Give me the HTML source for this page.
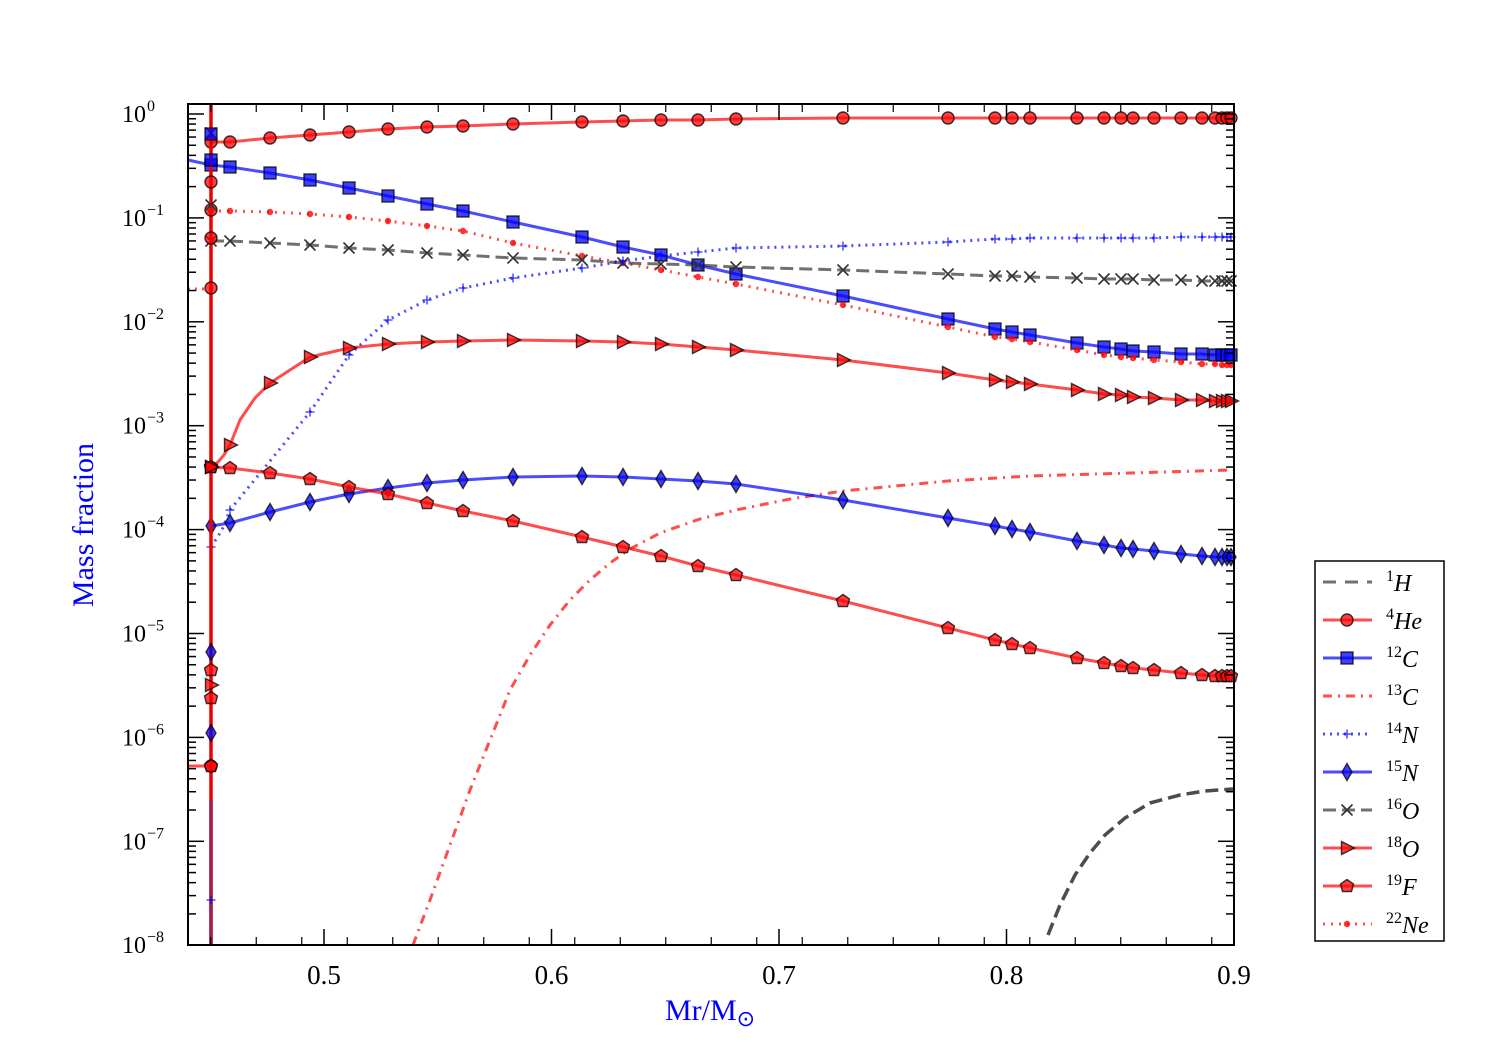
<!DOCTYPE html>
<html><head><meta charset="utf-8"><style>
html,body{margin:0;padding:0;background:#fff;}
svg{display:block;font-family:"Liberation Serif",serif;}
</style></head><body>
<svg id="s" width="1500" height="1050" xmlns="http://www.w3.org/2000/svg"></svg>
<script>
const s=document.getElementById('s');let h='';
const X0=188,X1=1234,Y0=104,Y1=945;
const XM=[230,270,310,349,388,427,463,513,582,623,661,698,736,843,948,995,1012,1030,1077,1104,1121,1133,1154,1181,1202,1215,1222,1227,1231];
function pts(ys,start){let p=start?start.slice():[];ys.forEach((y,i)=>{if(y!=null)p.push([XM[i],y]);});p.sort((a,b)=>a[0]-b[0]);return p;}
function ext(a){while(a.length<XM.length)a.push(a[a.length-1]);return a;}
function line(p,c,w,dash){h+=`<polyline points="${p.map(q=>q.join(',')).join(' ')}" fill="none" stroke="${c}" stroke-opacity="0.7" stroke-width="${w}" stroke-linejoin="round" ${dash?`stroke-dasharray="${dash}"`:''}/>`;}
function mk(t,x,y,c){const st=`fill="${c}" fill-opacity="0.75" stroke="#000" stroke-opacity="0.75" stroke-width="1.4"`;
 if(t=='o')h+=`<circle cx="${x}" cy="${y}" r="6" ${st}/>`;
 else if(t=='s')h+=`<rect x="${x-6}" y="${y-6}" width="12" height="12" ${st}/>`;
 else if(t=='d')h+=`<polygon points="${x},${y-8.5} ${x+5},${y} ${x},${y+8.5} ${x-5},${y}" ${st}/>`;
 else if(t=='>')h+=`<polygon points="${x-5.5},${y-6.5} ${x+7.5},${y} ${x-5.5},${y+6.5}" ${st}/>`;
 else if(t=='p')h+=`<polygon points="${x},${y-6.5} ${x+6.5},${y-2} ${x+4.5},${y+5.5} ${x-4.5},${y+5.5} ${x-6.5},${y-2}" ${st}/>`;
 else if(t=='x')h+=`<path d="M${x-5.5} ${y-5.5}L${x+5.5} ${y+5.5}M${x-5.5} ${y+5.5}L${x+5.5} ${y-5.5}" stroke="#333" stroke-width="1.6"/>`;
 else if(t=='+')h+=`<path d="M${x-4.5} ${y}H${x+4.5}M${x} ${y-4.5}V${y+4.5}" stroke="${c}" stroke-opacity="0.8" stroke-width="1.3"/>`;
 else if(t=='.')h+=`<circle cx="${x}" cy="${y}" r="3.2" fill="${c}" fill-opacity="0.8"/>`;}
const R='#f00',B='#00f';
// 13C
line([[413,945],[430,900],[450,845],[470,790],[490,740],[510,690],[530,655],[550,625],[570,600],[590,580],[610,563],[630,549],[660,533],[700,519],[736,510],[790,499],[843,491],[948,481],[1030,476],[1231,470]],R,3,'9,6,2,6');
// 1H
line([[1048,935],[1060,905],[1075,875],[1090,853],[1105,835],[1125,818],[1150,803],[1180,795],[1205,791],[1233,789]],'#000',3.5,'13,6');
const S=[
 ['o',R,null,ext([142,138,135,132,129,127,126,124,122,121,120,120,119,118,118]),[[211,142]]],
 ['s',B,null,[167,173,180,188,196,204,211,222,237,247,255,265,274,296,319,329,332,335,343,347,349,351,352,354,354,355,355,355,355],[[188,160],[211,165]]],
 ['.',R,'2,6',[211,212,214,217,221,226,231,243,256,263,270,277,284,305,327,337,339,342,350,355,357,358,360,362,364,364,365,365,365],[[211,211]]],
 ['x','#333','13,6',[241,243,245,248,250,253,255,258,260,263,264,265,267,270,274,276,276,277,278,279,279,279,280,280,281,281,281,281,281],[[211,241]]],
 ['+',B,'2,5',[510,null,412,355,320,300,288,278,268,261,256,252,248,246,242,239,239,238,238,238,238,238,238,237,237,237,237,237,237],[[211,547],[222,530]]],
 ['>',R,null,[445,383,357,348,344,342,341,340,341,342,344,347,350,360,373,380,382,384,390,394,395,397,398,400,400,401,401,401,401],[[211,467],[218,462],[224,455],[240,420],[255,398]]],
 ['d',B,null,[523,512,502,494,488,483,480,477,476,477,479,481,484,500,518,526,529,532,541,545,548,549,551,554,556,557,557,557,557],[[211,526]]],
 ['p',R,null,[468,473,479,487,494,503,511,521,537,547,556,566,575,601,628,640,644,648,658,663,666,668,670,673,675,676,676,676,676],[[211,467]]]
];
S.forEach(([t,c,d,ys,st])=>{const p=pts(ys,st);line(p,c,3,d);p.forEach(q=>{if(q[0]==211||XM.includes(q[0]))mk(t,q[0],q[1],c);});});
// vertical line and left stubs
h+=`<line x1="211" y1="104" x2="211" y2="945" stroke="#e00" stroke-width="3.5"/>`;
h+=`<line x1="211" y1="800" x2="211" y2="945" stroke="#a02050" stroke-width="3.5"/>`;
h+=`<line x1="188" y1="289" x2="211" y2="289" stroke="#f00" stroke-opacity=".7" stroke-width="3" stroke-dasharray="2,5"/>`;
h+=`<line x1="188" y1="766" x2="211" y2="766" stroke="#f00" stroke-opacity=".7" stroke-width="3"/>`;
[[ 'x',133],['s',134],['s',160],['o',182],['o',210],['o',288],['o',238],['x',205],['p',467],['>',467],['d',652],['d',733],['>',685],['p',670],['p',698],['o',766],['p',766]].forEach(([t,y])=>{let c=(t=='s'||t=='d')?B:R;mk(t,211,y,c);});
mk('+',211,900,B);
// axes
h+=`<rect x="${X0}" y="${Y0}" width="${X1-X0}" height="${Y1-Y0}" fill="none" stroke="#000" stroke-width="2"/>`;
const dec=103.9;
for(let k=0;k<=8;k++){const y=114+k*dec;
 h+=`<line x1="${X0}" y1="${y}" x2="${X0+16}" y2="${y}" stroke="#000" stroke-width="1.5"/><line x1="${X1}" y1="${y}" x2="${X1-16}" y2="${y}" stroke="#000" stroke-width="1.5"/>`;
 h+=`<text x="146" y="${y+8}" font-size="24" text-anchor="end">10</text><text x="147" y="${y-3}" font-size="16">${k==0?'0':'−'+k}</text>`;
 for(let m=2;m<=9;m++){const ym=y-Math.log10(m)*dec; if(ym<Y0)continue;
  h+=`<line x1="${X0}" y1="${ym}" x2="${X0+8}" y2="${ym}" stroke="#000" stroke-width="1.5"/><line x1="${X1}" y1="${ym}" x2="${X1-8}" y2="${ym}" stroke="#000" stroke-width="1.5"/>`;}}
['0.5','0.6','0.7','0.8','0.9'].forEach((l,i)=>{const x=324+i*227.5;
 h+=`<line x1="${x}" y1="${Y1}" x2="${x}" y2="${Y1-16}" stroke="#000" stroke-width="1.5"/><line x1="${x}" y1="${Y0}" x2="${x}" y2="${Y0+16}" stroke="#000" stroke-width="1.5"/>`;
 h+=`<text x="${x}" y="984" font-size="27" text-anchor="middle">${l}</text>`;});
for(let x=X0+22.75;x<X1;x+=45.5){h+=`<line x1="${x}" y1="${Y1}" x2="${x}" y2="${Y1-8}" stroke="#000" stroke-width="1.2"/><line x1="${x}" y1="${Y0}" x2="${x}" y2="${Y0+8}" stroke="#000" stroke-width="1.2"/>`;}
h+=`<text x="710" y="1020" font-size="30" fill="#00f" text-anchor="middle">Mr/M<tspan font-size="22" dy="6">⊙</tspan></text>`;
h+=`<text transform="translate(93,525) rotate(-90)" font-size="30" fill="#00f" text-anchor="middle">Mass fraction</text>`;
// legend
h+=`<rect x="1315" y="561" width="129" height="380" fill="#fff" stroke="#000" stroke-width="1.5"/>`;
const L=[['1','H',null,'#333','13,9'],['4','He','o',R,null],['12','C','s',B,null],['13','C',null,R,'9,6,2,6'],['14','N','+',B,'2,5'],['15','N','d',B,null],['16','O','x','#333','13,6'],['18','O','>',R,null],['19','F','p',R,null],['22','Ne','.',R,'2,6']];
L.forEach(([a,b,m,c,d],i)=>{const y=582+i*38;
 h+=`<line x1="1323" y1="${y}" x2="1372" y2="${y}" stroke="${c}" stroke-opacity=".7" stroke-width="3" ${d?`stroke-dasharray="${d}"`:''}/>`;
 if(m)mk(m,1347,y,c);
 h+=`<text x="1386" y="${y+9}" font-size="24" font-style="italic"><tspan font-size="16" font-style="normal" dy="-10">${a}</tspan><tspan dy="10">${b}</tspan></text>`;});
s.innerHTML=h;
</script>
</body></html>
